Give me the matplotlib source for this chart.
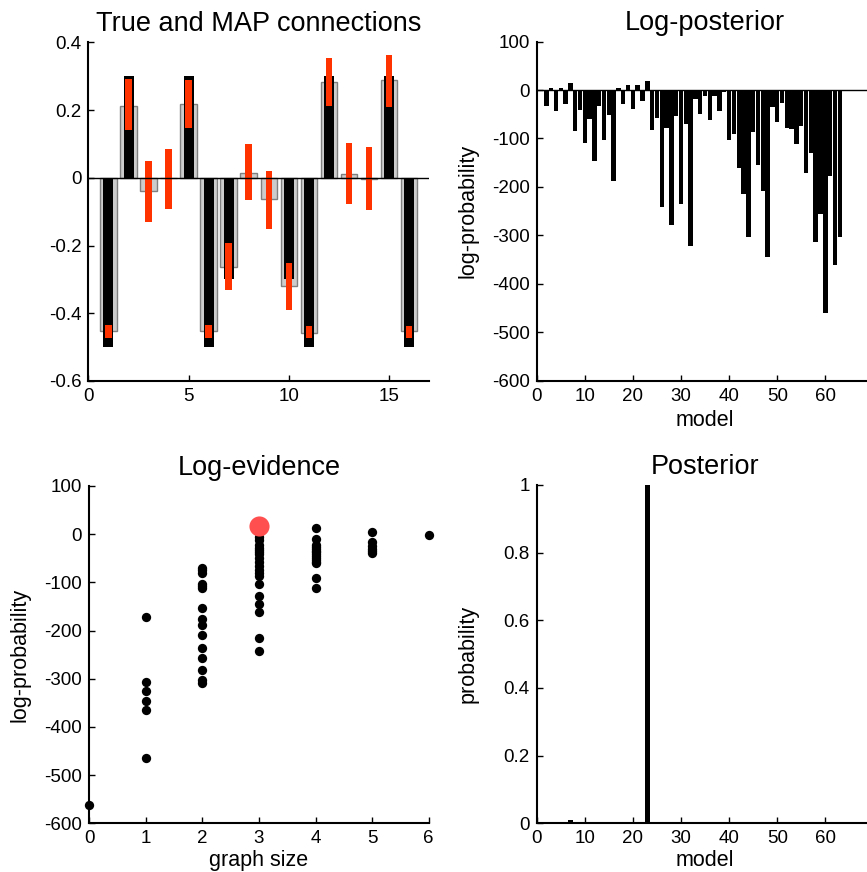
import numpy as np
import matplotlib
matplotlib.use("Agg")
import matplotlib.pyplot as plt

plt.rcParams['font.family'] = ['Liberation Sans', 'DejaVu Sans']
plt.rcParams['axes.unicode_minus'] = False

# --- panel 1 : true and MAP connections ---
conn_idx = np.arange(1, 17)
true_w = [-0.5, 0.3, 0, 0, 0.3, -0.5, -0.3, 0, 0, -0.3, -0.5, 0.3, 0, 0, 0.3, -0.5]
map_w = [-0.453, 0.213, -0.04, -0.002, 0.219, -0.453, -0.262, 0.015, -0.064, -0.32,
         -0.458, 0.284, 0.011, -0.005, 0.289, -0.453]
ci_lo = [-0.473, 0.141, -0.13, -0.091, 0.148, -0.473, -0.332, -0.067, -0.15, -0.391,
         -0.473, 0.213, -0.078, -0.095, 0.21, -0.473]
ci_hi = [-0.435, 0.292, 0.049, 0.085, 0.289, -0.435, -0.192, 0.10, 0.019, -0.251,
         -0.438, 0.355, 0.104, 0.09, 0.363, -0.438]

# --- panel 2 : log-posterior per model ---
models = np.arange(1, 64)
log_post = [-1, -34, 5, -44, 5, -28, 14, -85, -41, -110, -60, -146, -34, -103, -52, -187,
            5, -28, 11, -39, 11, -23, 19, -82, -58, -241, -78, -279, -53, -236, -71, -322,
            -18, -50, -13, -61, -13, -44, -4, -103, -91, -161, -214, -303, -86, -154, -209,
            -344, -35, -66, -27, -78, -80, -112, -74, -171, -129, -314, -255, -459, -177,
            -360, -304]

# --- panel 3 : log-evidence vs graph size ---
size0 = [-563]
size1 = [-171, -307, -325, -346, -364, -465]
size2 = [-71, -75, -81, -103, -108, -112, -154, -176, -188, -210, -237, -256, -281, -302, -309]
size3 = [-5, -12, -22, -28, -33, -38, -42, -50, -57, -66, -74, -80, -86, -104, -128,
         -145, -161, -215, -243]
size4 = [12, -10, -22, -26, -30, -34, -38, -42, -45, -49, -53, -57, -60, -92, -111]
size5 = [5, -17, -24, -30, -35, -40]
size6 = [-1]
best_size = 3
best_ev = 17

# --- panel 4 : posterior per model ---
posterior = np.zeros(63)
for m in [1, 2, 3, 4, 5, 6, 17, 18, 19, 20, 21, 22, 33, 34, 35, 36, 37, 38, 39]:
    posterior[m - 1] = 0.005
posterior[6] = 0.009
posterior[22] = 1.0

fig = plt.figure(figsize=(8.67, 8.72), dpi=100)

def style(ax):
    for s in ['top', 'right']:
        ax.spines[s].set_visible(False)
    for s in ['left', 'bottom']:
        ax.spines[s].set_linewidth(1.5)
    ax.tick_params(direction='in', length=4, width=1, labelsize=13.5, pad=5)
    ax.yaxis.set_label_coords(-0.172, 0.5)

tfs = 19.5
lfs = 15.5

# true and MAP
ax1 = fig.add_axes([0.102, 0.5631, 0.393, 0.3884])
ax1.bar(conn_idx, map_w, width=0.83, color='#cccccc', edgecolor='#808080', linewidth=1)
ax1.bar(conn_idx, true_w, width=0.5, color='black')
ax1.bar(conn_idx, np.array(ci_hi) - np.array(ci_lo), bottom=ci_lo, width=0.33, color='#ff3300')
ax1.axhline(0, color='black', linewidth=1)
ax1.set_xlim(0, 17)
ax1.set_ylim(-0.6, 0.4)
ax1.set_xticks([0, 5, 10, 15])
ax1.set_yticks([-0.6, -0.4, -0.2, 0, 0.2, 0.4])
ax1.set_yticklabels(['-0.6', '-0.4', '-0.2', '0', '0.2', '0.4'])
ax1.set_title('True and MAP connections', fontsize=tfs, pad=8)
style(ax1)

# log-posterior
ax2 = fig.add_axes([0.619, 0.5631, 0.3884, 0.3893])
ax2.bar(models, log_post, width=0.92, color='black', linewidth=0)
ax2.axhline(0, color='black', linewidth=1)
ax2.set_xlim(0, 70)
ax2.set_ylim(-600, 100)
ax2.set_xticks(range(0, 70, 10))
ax2.set_yticks(range(-600, 101, 100))
ax2.set_xlabel('model', fontsize=lfs, labelpad=4)
ax2.set_ylabel('log-probability', fontsize=lfs)
ax2.set_title('Log-posterior', fontsize=tfs, pad=8)
style(ax2)

# log-evidence
ax3 = fig.add_axes([0.1027, 0.0559, 0.3918, 0.3868])
groups = [size0, size1, size2, size3, size4, size5, size6]
for k, vals in enumerate(groups):
    ax3.scatter([k] * len(vals), vals, s=45, color='black', linewidths=0,
                clip_on=False, zorder=3)
ax3.scatter([best_size], [best_ev], s=210, color='#ff4f4f', linewidths=0,
            clip_on=False, zorder=4)
ax3.set_xlim(0, 6)
ax3.set_ylim(-600, 100)
ax3.set_xticks(range(0, 7))
ax3.set_yticks(range(-600, 101, 100))
ax3.set_xlabel('graph size', fontsize=lfs, labelpad=2)
ax3.set_ylabel('log-probability', fontsize=lfs)
ax3.set_title('Log-evidence', fontsize=tfs, pad=8)
style(ax3)

# posterior
ax4 = fig.add_axes([0.619, 0.0559, 0.3884, 0.3880])
ax4.bar(models, posterior, width=0.95, color='black', linewidth=0)
ax4.set_xlim(0, 70)
ax4.set_ylim(0, 1)
ax4.set_xticks(range(0, 70, 10))
ax4.set_yticks([0, 0.2, 0.4, 0.6, 0.8, 1])
ax4.set_yticklabels(['0', '0.2', '0.4', '0.6', '0.8', '1'])
ax4.set_xlabel('model', fontsize=lfs, labelpad=2)
ax4.set_ylabel('probability', fontsize=lfs)
ax4.set_title('Posterior', fontsize=tfs, pad=8)
style(ax4)

fig.savefig('out.png', dpi=100)
